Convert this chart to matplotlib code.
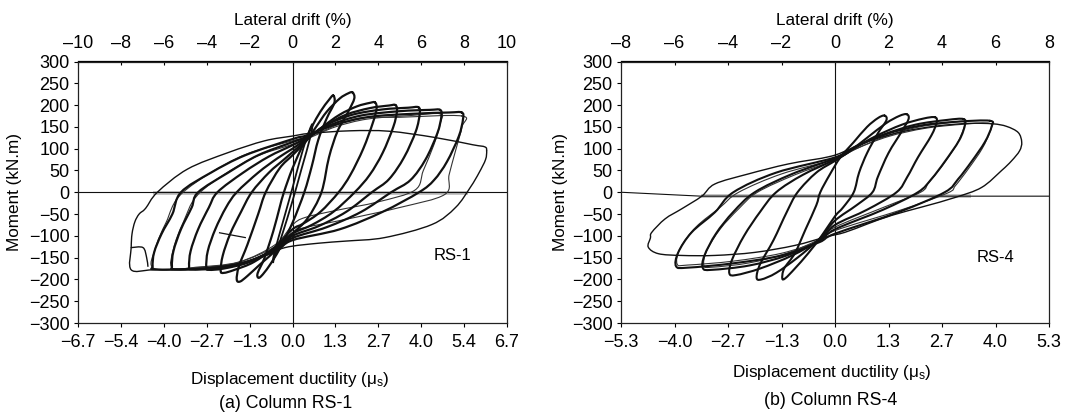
import numpy as np
import matplotlib
matplotlib.use("Agg")
import matplotlib.pyplot as plt
from matplotlib.path import Path
from matplotlib.patches import PathPatch

plt.rcParams["font.family"] = ["Liberation Sans", "DejaVu Sans"]
plt.rcParams["mathtext.fontset"] = "custom"
plt.rcParams["mathtext.rm"] = "Liberation Sans"
plt.rcParams["mathtext.it"] = "Liberation Sans:italic"

# ---------------- axis ticks ----------------
moment_ticks = list(range(-300, 301, 50))
rs1_drift_ticks = [-10, -8, -6, -4, -2, 0, 2, 4, 6, 8, 10]
rs1_drift_labels = ["\u201310", "\u20138", "\u20136", "\u20134", "\u20132", "0", "2", "4", "6", "8", "10"]
rs1_ductility_labels = ["\u22126.7", "\u22125.4", "\u22124.0", "\u22122.7", "\u22121.3", "0.0",
                        "1.3", "2.7", "4.0", "5.4", "6.7"]
rs4_drift_ticks = [-8, -6, -4, -2, 0, 2, 4, 6, 8]
rs4_drift_labels = ["\u20138", "\u20136", "\u20134", "\u20132", "0", "2", "4", "6", "8"]
rs4_ductility_labels = ["\u22125.3", "\u22124.0", "\u22122.7", "\u22121.3", "0.0",
                        "1.3", "2.7", "4.0", "5.3"]

# ---------------- RS-1 hysteresis cycles: (lateral drift %, moment kN.m) ----------------
rs1_elastic = [(0.9, 155), (0.85, 130), (0.4, 50), (0.0, -20), (-0.5, -100), (-0.85, -150),
               (-0.9, -160), (-0.85, -140), (-0.4, -60), (0.0, 10), (0.5, 100), (0.9, 155)]
rs1_cycle1 = [(1.9, 222), (1.95, 205), (1.6, 170), (1.2, 120), (0.9, 60), (0.55, 0), (0.0, -70),
              (-0.6, -130), (-1.1, -170), (-1.45, -192), (-1.6, -196), (-1.62, -185), (-1.3, -150),
              (-0.9, -90), (-0.6, -35), (-0.4, 0), (0.0, 55), (0.5, 110), (0.9, 150), (1.3, 185),
              (1.7, 212), (1.9, 222)]
rs1_cycle2 = [(2.8, 229), (2.88, 215), (2.6, 185), (2.1, 140), (1.7, 80), (1.35, 0), (0.7, -60),
              (0.0, -95), (-0.7, -130), (-1.5, -165), (-2.1, -192), (-2.45, -205), (-2.6, -200),
              (-2.5, -170), (-2.1, -120), (-1.6, -50), (-1.25, 0), (-0.6, 55), (0.0, 85), (0.6, 115),
              (1.1, 150), (1.6, 185), (2.2, 215), (2.6, 227), (2.8, 229)]
rs1_cycle3 = [(3.85, 206), (3.92, 192), (3.75, 160), (3.3, 100), (2.7, 40), (2.15, 0), (1.3, -45),
              (0.5, -72), (0.0, -85), (-0.8, -125), (-1.8, -160), (-2.7, -178), (-3.2, -185),
              (-3.35, -180), (-3.25, -145), (-2.9, -95), (-2.4, -45), (-1.9, 0), (-1.1, 45),
              (-0.4, 75), (0.0, 92), (0.7, 122), (1.4, 150), (2.2, 178), (3.0, 197), (3.6, 205),
              (3.85, 206)]
rs1_cycle4 = [(4.8, 200), (4.87, 186), (4.7, 150), (4.2, 90), (3.6, 40), (2.9, 0), (1.9, -45),
              (0.9, -75), (0.0, -95), (-0.8, -128), (-2.0, -160), (-3.2, -175), (-3.9, -178),
              (-4.02, -172), (-3.95, -135), (-3.6, -85), (-3.1, -35), (-2.6, 0), (-1.6, 45),
              (-0.7, 78), (0.0, 100), (0.7, 124), (1.5, 152), (2.5, 178), (3.6, 193), (4.5, 199),
              (4.8, 200)]
rs1_cycle5 = [(5.87, 195), (5.93, 180), (5.75, 140), (5.2, 80), (4.5, 30), (3.7, 0), (2.5, -45),
              (1.2, -78), (0.0, -100), (-0.8, -130), (-2.2, -162), (-3.6, -175), (-4.7, -177),
              (-4.82, -170), (-4.75, -135), (-4.4, -85), (-3.9, -35), (-3.5, 0), (-2.3, 45),
              (-1.1, 82), (0.0, 108), (0.7, 126), (1.6, 155), (2.8, 178), (4.2, 190), (5.4, 194),
              (5.87, 195)]
rs1_cycle6 = [(6.88, 189), (6.94, 174), (6.75, 135), (6.2, 75), (5.5, 28), (4.6, 0), (3.2, -45),
              (1.6, -80), (0.0, -105), (-0.8, -132), (-2.4, -164), (-4.0, -175), (-5.5, -177),
              (-5.62, -170), (-5.55, -135), (-5.2, -85), (-4.7, -35), (-4.4, 0), (-3.0, 45),
              (-1.6, 85), (0.0, 115), (0.7, 128), (1.8, 155), (3.2, 176), (5.0, 186), (6.4, 189),
              (6.88, 189)]
rs1_cycle7 = [(7.89, 183), (7.95, 168), (7.75, 128), (7.2, 70), (6.6, 28), (5.9, 0), (4.2, -45),
              (2.2, -85), (0.0, -110), (-0.8, -135), (-2.6, -166), (-4.5, -176), (-6.4, -177),
              (-6.52, -170), (-6.45, -138), (-6.1, -95), (-5.6, -50), (-5.2, 0), (-3.8, 45),
              (-2.2, 85), (0.0, 122), (0.7, 131), (2.0, 155), (3.6, 173), (5.6, 180), (7.3, 183),
              (7.89, 183)]
rs1_cycle8 = [(9.05, 95), (9.0, 75), (8.7, 45), (8.3, 12), (7.6, -35), (6.5, -74), (4.3, -104),
              (2.5, -112), (1.2, -117), (-0.35, -127), (-1.5, -150), (-3.0, -168), (-4.5, -176),
              (-6.5, -178), (-7.52, -178), (-7.52, -127), (-7.48, -95), (-7.35, -68), (-7.15, -50),
              (-6.85, -37), (-6.3, 0), (-4.9, 53), (-3.0, 91), (-1.3, 118), (0.0, 129), (0.8, 135),
              (2.7, 141), (4.5, 140), (6.6, 126), (8.4, 109), (8.97, 104), (9.05, 95)]
rs1_repeat6 = [(6.88, 180), (6.9, 160), (6.6, 110), (6.1, 50), (5.71, 5), (4.0, -22), (2.0, -42),
               (0.58, -58), (0.0, -75), (-0.8, -120), (-2.5, -160), (-4.5, -172), (-5.6, -174),
               (-5.55, -130), (-5.1, -70), (-4.3, 0), (-2.0, 75), (0.0, 110), (0.8, 125),
               (2.0, 150), (3.5, 168), (5.5, 176), (6.88, 180)]
rs1_repeat7 = [(7.89, 175), (7.9, 150), (7.6, 95), (7.3, 40), (7.1, -5), (5.0, -35), (2.5, -62),
               (0.58, -81), (0.0, -92), (-0.8, -125), (-2.6, -162), (-4.5, -173), (-6.45, -175),
               (-6.4, -130), (-5.9, -70), (-5.1, 0), (-2.5, 80), (0.0, 118), (0.8, 128),
               (2.9, 168), (5.0, 172), (7.89, 175)]
rs1_tip_step = [(-7.52, -127), (-6.97, -127), (-6.8, -150), (-6.74, -170)]
rs1_stub = [(-3.4, -93), (-2.2, -104)]
rs1_residual = [(-6.5, -1), (8.2, -1)]

# ---------------- RS-4 hysteresis cycles ----------------
rs4_cycle1 = [(1.85, 176), (1.92, 165), (1.6, 135), (1.2, 90), (0.9, 45), (0.7, 0), (0.3, -35),
              (0.0, -55), (-0.5, -100), (-1.0, -140), (-1.5, -175), (-1.85, -197), (-1.97, -198),
              (-1.9, -175), (-1.5, -140), (-1.1, -85), (-0.7, -30), (-0.55, 0), (-0.2, 40),
              (0.2, 80), (0.7, 115), (1.2, 150), (1.6, 170), (1.85, 176)]
rs4_cycle2 = [(2.68, 179), (2.75, 168), (2.5, 140), (2.0, 90), (1.6, 35), (1.4, 0), (0.8, -30),
              (0.0, -65), (-0.6, -108), (-1.4, -150), (-2.2, -185), (-2.75, -200), (-2.93, -196),
              (-2.8, -165), (-2.3, -110), (-1.8, -45), (-1.4, 0), (-0.7, 45), (0.0, 72), (0.5, 92),
              (1.2, 125), (1.9, 158), (2.4, 175), (2.68, 179)]
rs4_cycle3 = [(3.74, 172), (3.8, 160), (3.6, 130), (3.1, 80), (2.7, 35), (2.3, 0), (1.2, -40),
              (0.0, -75), (-0.6, -110), (-1.6, -145), (-2.8, -175), (-3.7, -190), (-3.95, -186),
              (-3.85, -155), (-3.4, -100), (-2.8, -45), (-2.2, 0), (-1.2, 40), (0.0, 75),
              (0.7, 100), (1.5, 128), (2.5, 155), (3.3, 169), (3.74, 172)]
rs4_cycle4 = [(4.8, 168), (4.86, 155), (4.65, 120), (4.1, 70), (3.6, 30), (3.1, 0), (1.8, -40),
              (0.0, -85), (-0.6, -112), (-1.8, -145), (-3.2, -168), (-4.6, -178), (-4.94, -174),
              (-4.88, -145), (-4.45, -95), (-3.8, -45), (-3.0, 0), (-1.6, 42), (0.0, 78),
              (0.8, 105), (1.8, 132), (3.0, 155), (4.2, 166), (4.8, 168)]
rs4_cycle5 = [(5.79, 164), (5.85, 150), (5.6, 115), (5.1, 70), (4.6, 30), (4.1, 0), (2.4, -45),
              (0.0, -95), (-0.6, -115), (-2.0, -145), (-3.8, -163), (-5.5, -173), (-5.94, -170),
              (-5.86, -138), (-5.36, -92), (-4.49, -46), (-3.8, 0), (-2.2, 45), (0.0, 80),
              (0.8, 106), (1.9, 133), (3.2, 153), (4.6, 162), (5.79, 164)]
rs4_repeat4 = [(4.8, 162), (4.82, 148), (4.55, 110), (4.0, 60), (3.5, 22), (3.2, 0), (1.8, -35),
               (0.0, -80), (-0.6, -108), (-1.8, -140), (-3.2, -162), (-4.6, -172), (-4.9, -168),
               (-4.8, -135), (-4.3, -85), (-3.6, -38), (-2.9, 0), (-1.5, 40), (0.0, 74),
               (0.8, 100), (1.8, 126), (3.0, 148), (4.2, 159), (4.8, 162)]
rs4_repeat5 = [(5.79, 158), (5.8, 140), (5.5, 100), (5.0, 55), (4.5, 15), (4.2, -2), (2.5, -40),
               (0.0, -88), (-0.6, -112), (-2.0, -140), (-3.8, -158), (-5.5, -167), (-5.9, -165),
               (-5.8, -130), (-5.2, -80), (-4.3, -35), (-3.6, 0), (-2.0, 42), (0.0, 76),
               (0.8, 100), (2.0, 128), (3.4, 147), (4.8, 156), (5.79, 158)]
rs4_cycle6 = [(-0.19, 82), (0.6, 100), (1.5, 122), (2.6, 140), (3.8, 152), (5.0, 158), (5.9, 157),
              (6.42, 151), (6.85, 137), (6.98, 115), (6.9, 95), (6.6, 72), (6.23, 50), (5.48, 11),
              (4.49, -12), (3.3, -33), (2.12, -53), (1.2, -73), (0.37, -92), (-0.37, -103),
              (-1.5, -122), (-3.0, -138), (-4.5, -145), (-5.73, -145), (-6.6, -141), (-6.98, -126),
              (-6.9, -105), (-6.85, -92), (-6.35, -61), (-5.73, -38), (-4.98, -9), (-4.49, 19),
              (-3.24, 42), (-1.74, 65), (-0.19, 82)]
rs4_residual_line = [(-8.0, 0), (-5.0, -9), (8.0, -9)]
rs4_residual_band = [(-5.0, -9), (5.1, -9)]


def draw_curve(ax, pts, lw=1.5, color="#111111", closed=True, zorder=3):
    """Draw a smooth curve (Catmull-Rom as cubic Bezier) through the given points."""
    P = np.asarray(pts, dtype=float)
    n = len(P)
    verts = [P[0]]
    codes = [Path.MOVETO]
    for i in range(n - 1):
        if i > 0:
            p0 = P[i - 1]
        else:
            p0 = P[-2] if closed else P[0]
        p1, p2 = P[i], P[i + 1]
        if i + 2 < n:
            p3 = P[i + 2]
        else:
            p3 = P[1] if closed else P[-1]
        verts += [p1 + (p2 - p0) / 6.0, p2 - (p3 - p1) / 6.0, p2]
        codes += [Path.CURVE4] * 3
    patch = PathPatch(Path(np.array(verts), codes), fill=False, lw=lw, ec=color,
                      capstyle="round", joinstyle="round", zorder=zorder)
    ax.add_patch(patch)


def style_axes(ax, drift_ticks, drift_labels, ductility_labels):
    lim = drift_ticks[-1]
    ax.set_xlim(-lim, lim)
    ax.set_ylim(-300, 300)
    ax.set_xticks(drift_ticks)
    ax.set_xticklabels(ductility_labels)
    ax.set_yticks(moment_ticks)
    ax.tick_params(axis="x", direction="out", length=3.2, width=0.8, pad=5.0,
                   labelsize=13, top=False)
    ax.tick_params(axis="y", direction="out", length=3.2, width=0.8, pad=3.0,
                   labelsize=13, right=False)
    for s in ax.spines.values():
        s.set_linewidth(0.9)
        s.set_color("#222222")
    top = ax.secondary_xaxis("top")
    top.set_xticks(drift_ticks)
    top.set_xticklabels(drift_labels)
    top.tick_params(direction="in", length=3.2, width=0.8, pad=6.5, labelsize=13)
    top.spines["top"].set_linewidth(0.9)
    ax.axvline(0, color="#111111", lw=0.8, zorder=2)


fig = plt.figure(figsize=(10.67, 4.12), dpi=100)
ax1 = fig.add_axes([78 / 1067, 1 - 323 / 412, 429 / 1067, 261.5 / 412])
ax2 = fig.add_axes([621 / 1067, 1 - 323 / 412, 428 / 1067, 261.5 / 412])

style_axes(ax1, rs1_drift_ticks, rs1_drift_labels, rs1_ductility_labels)
style_axes(ax2, rs4_drift_ticks, rs4_drift_labels, rs4_ductility_labels)

# RS-1
rx, ry = zip(*rs1_residual)
ax1.plot(rx, ry, color="#b8b8b8", lw=2.6, solid_capstyle="butt", zorder=1)
ax1.axhline(0, color="#111111", lw=0.8, zorder=2)
draw_curve(ax1, rs1_repeat6, lw=0.8, color="#333333")
draw_curve(ax1, rs1_repeat7, lw=0.8, color="#333333")
draw_curve(ax1, rs1_elastic, lw=1.3)
for cyc in [rs1_cycle1, rs1_cycle2, rs1_cycle3, rs1_cycle4, rs1_cycle5, rs1_cycle6, rs1_cycle7]:
    draw_curve(ax1, cyc, lw=1.6)
draw_curve(ax1, rs1_cycle8, lw=1.0)
draw_curve(ax1, rs1_tip_step, lw=1.0, closed=False)
sx, sy = zip(*rs1_stub)
ax1.plot(sx, sy, color="#111111", lw=0.9)
ax1.text(7.46, -146, "RS-1", fontsize=12, ha="center", va="center")

# RS-4
bx, by = zip(*rs4_residual_band)
ax2.plot(bx, by, color="#b8b8b8", lw=2.6, solid_capstyle="butt", zorder=1)
lx, ly = zip(*rs4_residual_line)
ax2.plot(lx, ly, color="#111111", lw=0.8, zorder=2)
draw_curve(ax2, rs4_repeat4, lw=0.8, color="#333333")
draw_curve(ax2, rs4_repeat5, lw=0.8, color="#333333")
for cyc in [rs4_cycle1, rs4_cycle2, rs4_cycle3, rs4_cycle4, rs4_cycle5]:
    draw_curve(ax2, cyc, lw=1.5)
draw_curve(ax2, rs4_cycle6, lw=1.0)
ax2.text(6.0, -150, "RS-4", fontsize=12, ha="center", va="center")

# Axis titles and captions
label_fs = 12.3
for cx in (292.5, 835):
    fig.text(cx / 1067, 1 - 25 / 412, "Lateral drift (%)", ha="center", va="baseline",
             fontsize=label_fs)
fig.text(290 / 1067, 1 - 384 / 412, r"Displacement ductility (μ$_\mathregular{s}$)",
         ha="center", va="baseline", fontsize=label_fs)
fig.text(832 / 1067, 1 - 377 / 412, r"Displacement ductility (μ$_\mathregular{s}$)",
         ha="center", va="baseline", fontsize=label_fs)
fig.text(286 / 1067, 1 - 408 / 412, "(a) Column RS-1", ha="center", va="baseline",
         fontsize=12.8)
fig.text(831 / 1067, 1 - 405 / 412, "(b) Column RS-4", ha="center", va="baseline",
         fontsize=12.8)
for cx in (15, 561):
    fig.text(cx / 1067, 1 - 192 / 412, "Moment (kN.m)", rotation=90, ha="center",
             va="center", fontsize=label_fs)

fig.savefig("out.png", dpi=100, facecolor="white")
